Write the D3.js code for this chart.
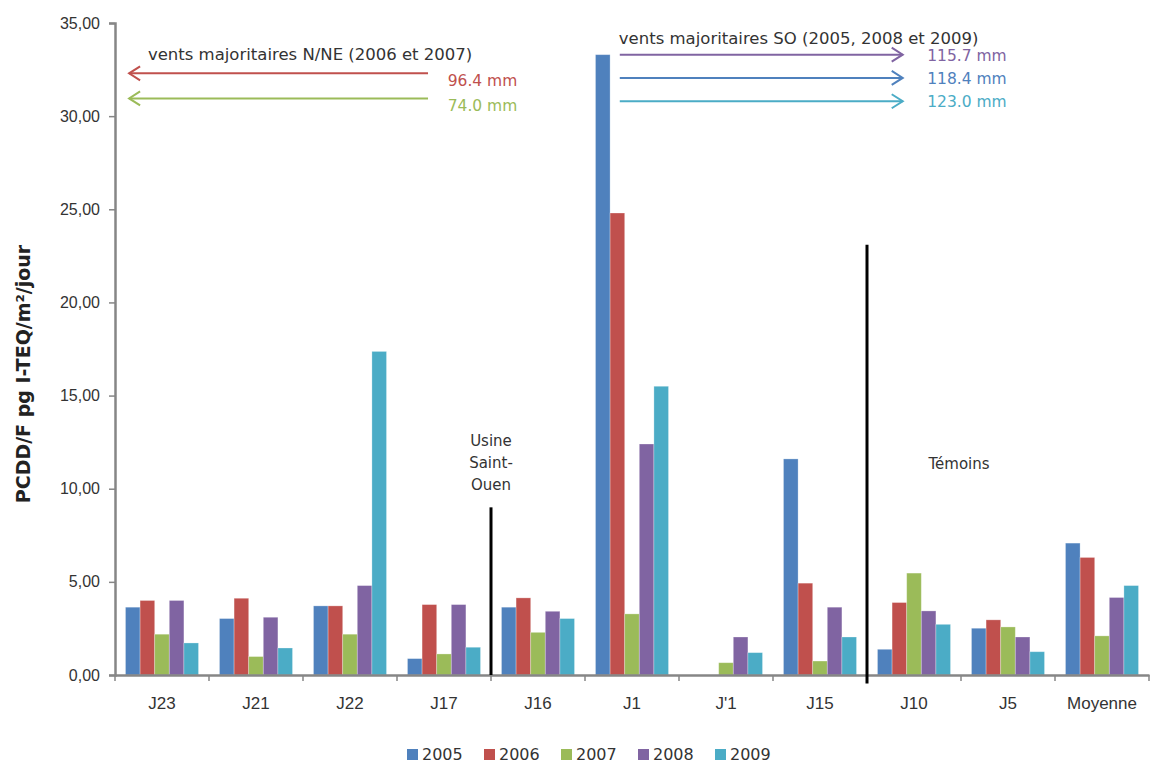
<!DOCTYPE html>
<html>
<head>
<meta charset="utf-8">
<script src="https://cdn.jsdelivr.net/npm/d3@7"></script>
<style>
  body { margin: 0; background: #fff; }
  svg { font-family: 'DejaVu Sans', sans-serif; }
</style>
</head>
<body>
<svg id="chart" width="1154" height="764"></svg>
<script>
const categories = ['J23', 'J21', 'J22', 'J17', 'J16', 'J1', "J'1", 'J15', 'J10', 'J5', 'Moyenne'];
const years = ['2005', '2006', '2007', '2008', '2009'];
const colors = ['#4F81BD', '#C0504D', '#9BBB59', '#8064A2', '#4BACC6'];
const values2005 = [3.64, 3.03, 3.71, 0.88, 3.64, 33.3, 0, 11.6, 1.38, 2.51, 7.08];
const values2006 = [4.00, 4.12, 3.71, 3.78, 4.14, 24.8, 0, 4.93, 3.89, 2.96, 6.31];
const values2007 = [2.19, 0.99, 2.19, 1.13, 2.29, 3.28, 0.66, 0.75, 5.47, 2.58, 2.10];
const values2008 = [4.00, 3.10, 4.80, 3.78, 3.42, 12.4, 2.04, 3.64, 3.44, 2.04, 4.16];
const values2009 = [1.72, 1.45, 17.37, 1.49, 3.03, 15.5, 1.20, 2.04, 2.72, 1.25, 4.80];
const yTicks = [0, 5, 10, 15, 20, 25, 30, 35];
// black separators: after which category, up to which value
const separators = [{ after: 'J17', top: 9.0, below: 0 }, { after: 'J15', top: 23.1, below: 0.45 }];
// wind arrows (y in data units, x in category steps from the axis)
const windLeft = [
  { label: '96.4 mm', color: '#C0504D', y: 32.3 },
  { label: '74.0 mm', color: '#9BBB59', y: 30.95 }
];
const windRight = [
  { label: '115.7 mm', color: '#8064A2', y: 33.3 },
  { label: '118.4 mm', color: '#4F81BD', y: 32.05 },
  { label: '123.0 mm', color: '#4BACC6', y: 30.8 }
];

const series = [values2005, values2006, values2007, values2008, values2009];
const margin = { top: 23, right: 5, bottom: 89, left: 115 };
const width = 1154, height = 764;
const svg = d3.select('#chart');

const x = d3.scaleBand()
  .domain(categories)
  .range([margin.left, width - margin.right])
  .paddingInner(0.223)
  .paddingOuter(0.1115);
const xInner = d3.scaleBand()
  .domain(years)
  .range([0, x.bandwidth()]);
const y = d3.scaleLinear()
  .domain([0, 35])
  .range([height - margin.bottom, margin.top]);
const step = x.step();
const catX = i => margin.left + i * step;

// bars
svg.append('g')
  .selectAll('g')
  .data(categories)
  .join('g')
    .attr('transform', d => `translate(${x(d)},0)`)
  .selectAll('rect')
  .data((d, i) => years.map((yr, j) => ({ year: yr, value: series[j][i], color: colors[j] })))
  .join('rect')
    .attr('x', d => xInner(d.year))
    .attr('y', d => y(d.value))
    .attr('width', xInner.bandwidth())
    .attr('height', d => y(0) - y(d.value))
    .attr('fill', d => d.color)
    .attr('stroke', '#ffffff')
    .attr('stroke-opacity', 0.35)
    .attr('stroke-width', 0.8);

// y axis
const yAxis = d3.axisLeft(y)
  .tickValues(yTicks)
  .tickSize(6)
  .tickPadding(9)
  .tickFormat(d => d3.format('.2f')(d).replace('.', ','));
const gy = svg.append('g')
  .attr('transform', `translate(${margin.left},0)`)
  .call(yAxis);
gy.select('.domain').attr('stroke', '#868686').attr('stroke-width', 2.5);
gy.selectAll('.tick line').attr('stroke', '#868686').attr('stroke-width', 1.5);
gy.selectAll('.tick text')
  .attr('font-size', '16px')
  .attr('fill', '#333');

// x axis
const xAxis = d3.axisBottom(x).tickSize(0).tickPadding(22);
const gx = svg.append('g')
  .attr('transform', `translate(0,${y(0)})`)
  .call(xAxis);
gx.select('.domain').attr('stroke', '#868686').attr('stroke-width', 2.5);
gx.selectAll('.tick text')
  .attr('font-size', '17px')
  .attr('fill', '#333');
gx.selectAll('line.bound')
  .data(d3.range(categories.length + 1))
  .join('line')
    .attr('class', 'bound')
    .attr('x1', d => catX(d))
    .attr('x2', d => catX(d))
    .attr('y1', 0)
    .attr('y2', 6)
    .attr('stroke', '#868686')
    .attr('stroke-width', 1.5);

// y title
svg.append('text')
  .attr('transform', `translate(30,${(y(0) + y(35)) / 2 + 25}) rotate(-90)`)
  .attr('text-anchor', 'middle')
  .attr('font-size', '19px')
  .attr('font-weight', 'bold')
  .attr('fill', '#222')
  .text('PCDD/F pg I-TEQ/m²/jour');

// separators
svg.append('g')
  .selectAll('line')
  .data(separators)
  .join('line')
    .attr('x1', d => x(d.after) + x.bandwidth() + step * x.paddingInner() / 2)
    .attr('x2', d => x(d.after) + x.bandwidth() + step * x.paddingInner() / 2)
    .attr('y1', d => y(d.top))
    .attr('y2', d => y(-d.below))
    .attr('stroke', '#000')
    .attr('stroke-width', 3);

const sepX = x('J17') + x.bandwidth() + step * x.paddingInner() / 2;
svg.append('text')
  .attr('text-anchor', 'middle')
  .attr('font-size', '15px')
  .attr('fill', '#333')
  .selectAll('tspan')
  .data(['Usine', 'Saint-', 'Ouen'])
  .join('tspan')
    .attr('x', sepX)
    .attr('y', (d, i) => y(12.3) + i * 22)
    .text(d => d);
svg.append('text')
  .attr('x', catX(9) - 2)
  .attr('y', y(11.05))
  .attr('text-anchor', 'middle')
  .attr('font-size', '15px')
  .attr('fill', '#333')
  .text('Témoins');

// wind arrows
function arrow(g, x1, x2, yy, color, dir) {
  g.append('line')
    .attr('x1', x1).attr('x2', x2)
    .attr('y1', yy).attr('y2', yy)
    .attr('stroke', color)
    .attr('stroke-width', 2);
  const tip = dir < 0 ? x1 : x2;
  g.append('path')
    .attr('d', `M${tip - dir * 11},${yy - 7}L${tip},${yy}L${tip - dir * 11},${yy + 7}`)
    .attr('fill', 'none')
    .attr('stroke', color)
    .attr('stroke-width', 2);
}
const ann = svg.append('g');
ann.append('text')
  .attr('x', catX(0.35))
  .attr('y', y(32.3) - 13)
  .attr('font-size', '16.5px')
  .attr('fill', '#333')
  .text('vents majoritaires N/NE (2006 et 2007)');
windLeft.forEach(d => {
  arrow(ann, catX(0.15), catX(3.33), y(d.y), d.color, -1);
  ann.append('text')
    .attr('x', catX(4.28))
    .attr('y', y(d.y) + 13)
    .attr('text-anchor', 'end')
    .attr('font-size', '15.5px')
    .attr('fill', d.color)
    .text(d.label);
});
ann.append('text')
  .attr('x', catX(5.36))
  .attr('y', y(34.6) + 14)
  .attr('font-size', '16.5px')
  .attr('fill', '#333')
  .text('vents majoritaires SO (2005, 2008 et 2009)');
windRight.forEach(d => {
  arrow(ann, catX(5.37), catX(8.38), y(d.y), d.color, 1);
  ann.append('text')
    .attr('x', catX(8.64))
    .attr('y', y(d.y) + 6)
    .attr('font-size', '15.5px')
    .attr('fill', d.color)
    .text(d.label);
});

// legend
const legend = svg.append('g')
  .attr('transform', 'translate(407,749)')
  .selectAll('g')
  .data(years)
  .join('g')
    .attr('transform', (d, i) => `translate(${i * 77},0)`);
legend.append('rect')
  .attr('width', 11)
  .attr('height', 11)
  .attr('fill', (d, i) => colors[i]);
legend.append('text')
  .attr('x', 15)
  .attr('y', 5.5)
  .attr('dy', '0.35em')
  .attr('font-size', '16px')
  .attr('fill', '#333')
  .text(d => d);
</script>
</body>
</html>
